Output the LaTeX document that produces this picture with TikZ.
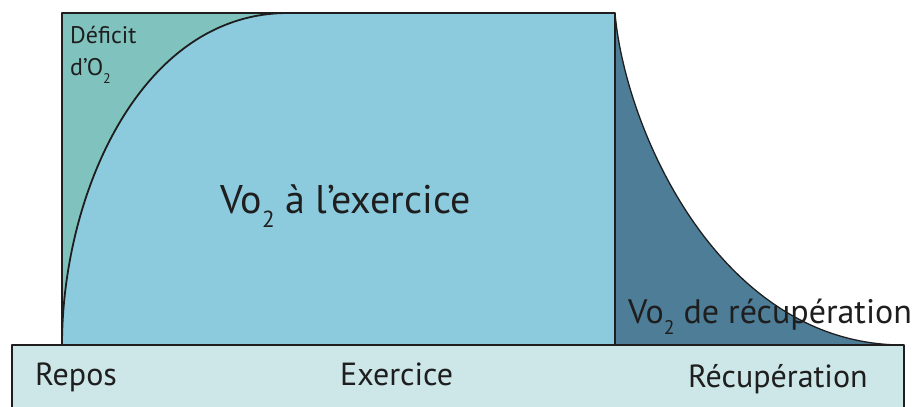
\documentclass[tikz,border=0pt]{standalone}
\usepackage{fontspec}
\setmainfont{PT Sans}
\definecolor{exo}{HTML}{8CCBDE}
\definecolor{defi}{HTML}{80C3BE}
\definecolor{recu}{HTML}{4E7D98}
\definecolor{bande}{HTML}{CDE6E8}
\definecolor{trait}{HTML}{1E1E1E}
\newcommand\indice[1]{\raisebox{-0.35em}{\scalebox{0.58}{#1}}}
\tikzset{lbl/.style={anchor=base west,inner sep=0pt,text=trait}}
\begin{document}
\begin{tikzpicture}[x=1pt,y=-1pt,line join=round]
	%\draw[step=50,gray!20] (0,0) grid (919,407); %grille
	\useasboundingbox (0,0) rectangle (919,407); \clip (0,0) rectangle (919,407);
	\fill[white] (0,0) rectangle (919,407);
	\def\haut{13} \def\bas{345}
	\fill[exo] (62,\haut) rectangle (615,\bas);
	\fill[defi] (62,\bas) ..controls(62,195) and (140,\haut).. (288,\haut) -- (62,\haut) -- cycle;
	\fill[recu] (615,\haut) ..controls(625,130) and (720,\bas).. (903,\bas) -- (615,\bas) -- cycle;
	\draw[trait,line width=1.5] (62,\bas) -- (62,\haut) -- (615,\haut) -- (615,\bas);
	\draw[trait,line width=1.8] (62,\bas) ..controls(62,195) and (140,\haut).. (288,\haut);
	\draw[trait,line width=1.3] (615,\haut) ..controls(625,130) and (720,\bas).. (903,\bas);
	\fill[bande] (12,\bas) rectangle (904,430);
	\draw[trait,line width=1.5] (12,430) -- (12,\bas) -- (904,\bas) -- (904,430);
	% textes
	\node[lbl,align=left,font=\fontsize{24}{32}\selectfont] (deficit) at (70,75) {Déficit\\d’O\indice{2}};
	\node[lbl,font=\fontsize{40}{48}\selectfont] (vexo) at (220,213) {Vo\indice{2} à l’exercice};
	\node[lbl,font=\fontsize{34}{40}\selectfont] (vrecu) at (628,323) {Vo\indice{2} de récupération};
	\node[lbl,font=\fontsize{32}{38}\selectfont] (repos) at (35,385) {Repos};
	\node[lbl,font=\fontsize{32}{38}\selectfont] (exercice) at (340,385) {Exercice};
	\node[lbl,font=\fontsize{32}{38}\selectfont] (recup) at (688,387) {Récupération};
\end{tikzpicture}
\end{document}
